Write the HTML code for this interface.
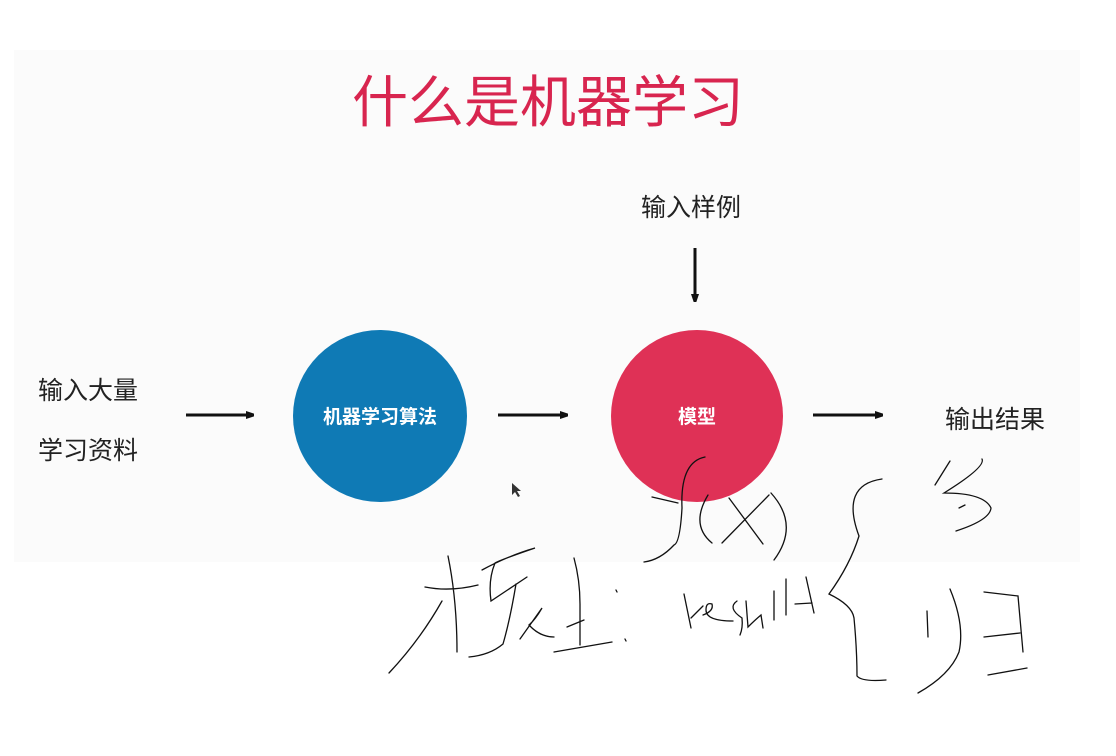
<!DOCTYPE html>
<html><head><meta charset="utf-8"><style>
body{margin:0;width:1116px;height:756px;background:#fff;overflow:hidden;position:relative;font-family:"Liberation Sans","Noto Sans CJK SC",sans-serif}
.slide{position:absolute;left:14px;top:50px;width:1066px;height:512px;background:#fbfbfb}
.t{position:absolute;white-space:nowrap;color:#222;font-size:25px}
</style></head><body>
<div class="slide"></div>
<div class="t" style="left:352px;top:58px;font-size:56px;color:#d8254f;letter-spacing:0px">什么是机器学习</div>
<div class="t" style="left:38px;top:371px">输入大量</div>
<div class="t" style="left:38px;top:431px">学习资料</div>
<div class="t" style="left:641px;top:188px">输入样例</div>
<div class="t" style="left:945px;top:400px">输出结果</div>
<svg width="1116" height="756" style="position:absolute;left:0;top:0">
<defs><marker id="ah" markerWidth="8" markerHeight="8" refX="6" refY="4" orient="auto" markerUnits="userSpaceOnUse"><path d="M0,0L12,4L0,8z" fill="#111"/></marker></defs>
<ellipse cx="380" cy="416" rx="87" ry="86" fill="#0f7ab5"/>
<ellipse cx="697" cy="416" rx="86" ry="86" fill="#df3156"/>
<text x="380" y="423" text-anchor="middle" fill="#fff" font-size="19" font-weight="bold" font-family="Liberation Sans, Noto Sans CJK SC, sans-serif">机器学习算法</text>
<text x="697" y="423" text-anchor="middle" fill="#fff" font-size="19" font-weight="bold" font-family="Liberation Sans, Noto Sans CJK SC, sans-serif">模型</text>
<g stroke="#111" stroke-width="3" fill="none" marker-end="url(#ah)">
<line x1="186" y1="415" x2="252" y2="415"/>
<line x1="498" y1="415" x2="566" y2="415"/>
<line x1="813" y1="415" x2="881" y2="415"/>
<line x1="695" y1="248" x2="695" y2="300"/>
</g>
<path d="M512,483l0,12l3,-3l3,5l2,-1l-3,-5l4,0z" fill="#333"/>
<g stroke="#111" stroke-width="1.3" fill="none" stroke-linecap="round">
<path d="M705,457Q680,462 682,508Q680,543 674,545Q660,560 644,562"/>
<path d="M652,497L678,503"/>
<path d="M708,495Q690,525 712,543"/>
<path d="M729,498L763,544M769,495L722,543"/>
<path d="M771,493Q800,525 774,560"/>
<path d="M882,479Q840,485 859,536Q850,565 829,594Q852,605 854,618Q857,650 857,676Q862,682 886,680"/>
<path d="M950,461L935,485M982,459Q986,467 944,493Q984,493 991,508Q990,520 956,531M959,508L965,505"/>
<path d="M927,611L928,637M950,589Q965,625 959,652Q950,675 918,693"/>
<path d="M984,592L1018,596L1023,652M984,637L1020,633M988,675L1027,668"/>
<path d="M684,594L691,628M691,618L703,606"/>
<path d="M703,615Q714,611 712,604Q706,602 706,610Q706,621 733,621"/>
<path d="M737,601Q727,608 742,618Q743,628 740,635"/>
<path d="M746,601L748,627Q755,620 761,615L763,628"/>
<path d="M774,591L774,620M786,579L786,615M806,577L814,613M795,604L812,603"/>
<path d="M448,556Q457,600 457,652M425,587Q450,592 478,585M442,601Q420,640 389,673"/>
<path d="M482,570Q510,555 535,548Q500,560 495,563Q488,580 491,601L527,577M516,584Q510,620 503,644Q490,655 469,657"/>
<path d="M520,639L542,608Q535,620 529,625Q540,637 554,637"/>
<path d="M574,558Q580,580 580,604L580,645M567,627L584,620M554,652L612,642"/>
<path d="M616,590l1,2M625,639l1,2"/>
</g>
</svg>
</body></html>
